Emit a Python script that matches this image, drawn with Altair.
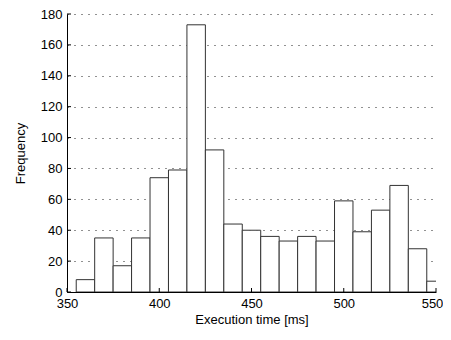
import altair as alt
import pandas as pd

bin_start = [355, 365, 375, 385, 395, 405, 415, 425, 435, 445,
             455, 465, 475, 485, 495, 505, 515, 525, 535, 545]
counts = [8, 35, 17, 35, 74, 79, 173, 92, 44, 40,
          36, 33, 36, 33, 59, 39, 53, 69, 28, 7]
bin_width = 10
y_ticks = list(range(0, 181, 20))
x_ticks = [350, 400, 450, 500, 550]

df = pd.DataFrame({
    "start": bin_start,
    "end": [b + bin_width for b in bin_start],
    "count": counts,
    "base": [0] * len(bin_start),
})
ydf = pd.DataFrame({"y": y_ticks})
xdf = pd.DataFrame({"x": x_ticks})

font = "Liberation Sans"
W, H = 369, 278

xscale = alt.Scale(domain=[350, 550], nice=False, zero=False, padding=0)
yscale = alt.Scale(domain=[0, 180], nice=False, padding=0)
xaxis = alt.Axis(title="Execution time [ms]", values=x_ticks,
                 grid=False, ticks=False, labelPadding=5, titlePadding=3,
                 domainColor="#000000", labelFlush=False,
                 labelOffset={"condition": {"test": "datum.value == 550", "value": -4},
                              "value": 0})
yaxis = alt.Axis(title="Frequency", values=y_ticks,
                 grid=True, gridDash=[1, 6], gridColor="#222222",
                 gridWidth=1, ticks=False, labelPadding=5,
                 titlePadding=13, domainColor="#000000")

bars = alt.Chart(df).mark_rect(
    fill="white", stroke="#333333", strokeWidth=1, clip=True
).encode(
    x=alt.X("start:Q", scale=xscale, axis=xaxis, title="Execution time [ms]"),
    x2="end:Q",
    y=alt.Y("count:Q", scale=yscale, axis=yaxis, title="Frequency"),
    y2="base:Q",
)

yt = alt.Chart(ydf).mark_rule(color="#000000", strokeWidth=1).encode(
    y=alt.Y("y:Q", scale=yscale, axis=yaxis, title="Frequency"),
    x=alt.value(0), x2=alt.value(4),
)
xt = alt.Chart(xdf).mark_rule(color="#000000", strokeWidth=1).encode(
    x=alt.X("x:Q", scale=xscale, axis=xaxis, title="Execution time [ms]"),
    y=alt.value(H), y2=alt.value(H - 4),
)

chart = alt.layer(bars, yt, xt).properties(
    width=W, height=H,
    autosize=alt.AutoSizeParams(type="none"),
    padding={"left": 59, "top": 6, "right": 7, "bottom": 36},
).configure_view(stroke=None).configure_axis(
    labelFont=font, titleFont=font, labelFontSize=13, titleFontSize=13,
    labelColor="#000000", titleColor="#000000", titleFontWeight="normal",
)

chart.save("out.html", embed_options={"renderer": "svg", "actions": False})
